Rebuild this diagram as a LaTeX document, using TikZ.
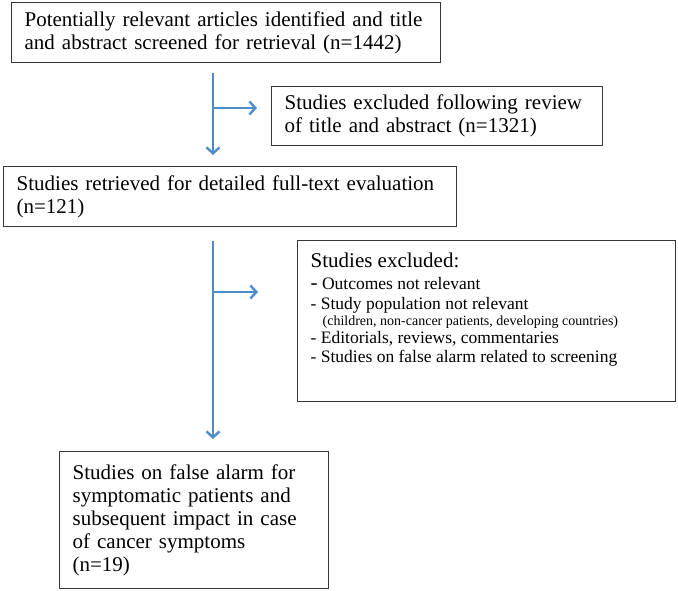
\documentclass[tikz,border=0pt]{standalone}
\usepackage{fontspec}
\setmainfont{Liberation Serif}
\usetikzlibrary{arrows.meta}
\definecolor{arrblue}{RGB}{79,139,201}
\definecolor{boxgray}{RGB}{55,55,55}
\begin{document}
\begin{tikzpicture}[x=1pt,y=-1pt,
  box/.style={draw=boxgray, line width=1.3pt, inner ysep=0pt, inner xsep=13pt,
    anchor=north west, align=left, font=\fontsize{21}{23}\selectfont},
  arr/.style={draw=arrblue, line width=1.6pt,
    -{Straight Barb[length=6pt,width=13pt,line width=2.4pt]}}]
\useasboundingbox (0,0) rectangle (678,591);

\node[box, text width=403pt, minimum height=60pt] (b1) at (11,2)
  {Potentially relevant articles identified and title\\and abstract screened for retrieval (n=1442)};
\node[box, text width=305pt, minimum height=59pt] (b2) at (271,86)
  {Studies excluded following review\\of title and abstract (n=1321)};
\node[box, text width=427pt, minimum height=60pt] (b3) at (3,166)
  {Studies retrieved for detailed full-text evaluation\\(n=121)};
\node[draw=boxgray, line width=1.3pt, inner ysep=0pt, inner xsep=13pt, anchor=north west] (b4) at (297,240)
  {\parbox[c][161pt][t]{352pt}{\raggedright
   {\fontsize{21}{23}\selectfont\rule{0pt}{27pt}Studies excluded:\par}
   {\fontsize{17.5}{22}\selectfont{\fontsize{21}{22}\selectfont -} Outcomes not relevant\par}
   {\fontsize{17.5}{20}\selectfont - Study population not relevant\par}
   {\fontsize{14}{16}\selectfont\hspace*{12pt}(children, non-cancer patients, developing countries)\par}
   {\fontsize{17.5}{18}\selectfont - Editorials, reviews, commentaries\par}
   {\fontsize{17.5}{19}\selectfont - Studies on false alarm related to screening\par}}};
\node[box, text width=243pt, minimum height=137pt] (b5) at (59,451)
  {Studies on false alarm for\\symptomatic patients and\\subsequent impact in case\\of cancer symptoms\\(n=19)};

\coordinate (j1) at (213,108);
\coordinate (j2) at (213,292);

\draw[arr, shorten <=10pt, shorten >=11pt] ([xshift=202pt]b1.south west) -- ([xshift=210pt]b3.north west);
\draw[arr, shorten >=14pt] (j1) -- (j1 -| b2.west);
\draw[arr, shorten <=14pt, shorten >=12pt] ([xshift=210pt]b3.south west) -- ([xshift=154pt]b5.north west);
\draw[arr, shorten >=39pt] (j2) -- (j2 -| b4.west);
\end{tikzpicture}
\end{document}
